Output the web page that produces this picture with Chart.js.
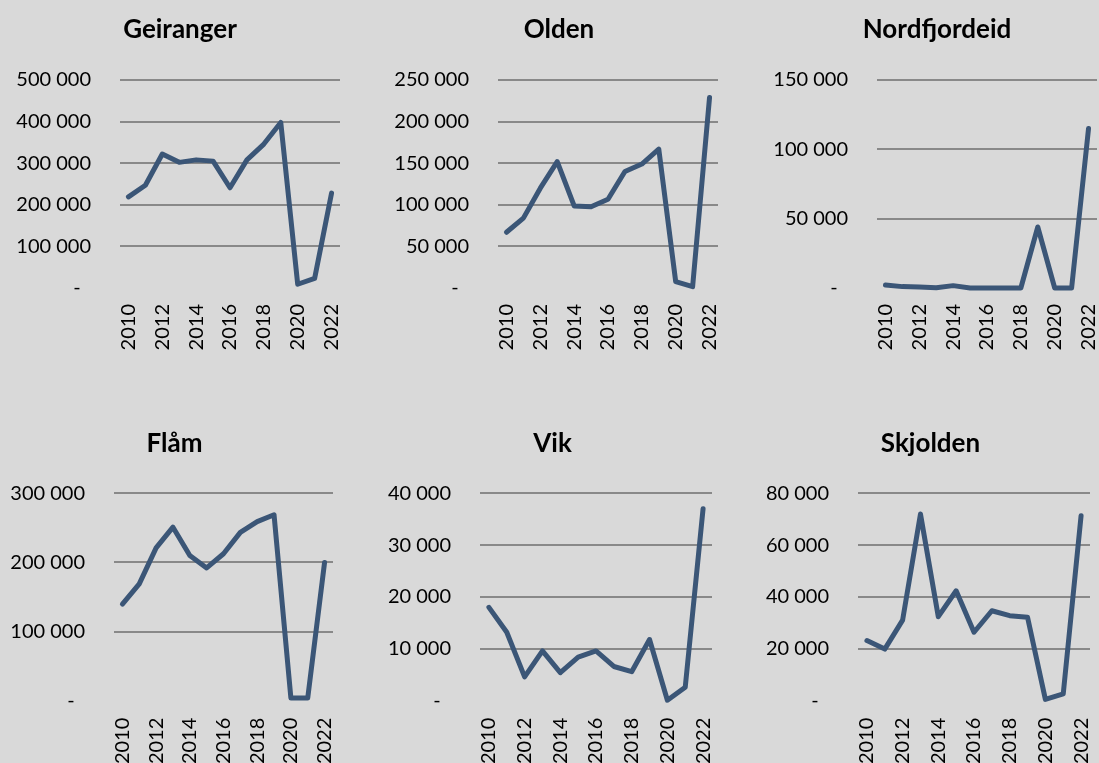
<!DOCTYPE html>
<html>
<head>
<meta charset="utf-8">
<script src="https://cdn.jsdelivr.net/npm/chart.js@4.4.1/dist/chart.umd.min.js"></script>
<style>
  html, body { margin: 0; padding: 0; background: #d9d9d9; }
  body { width: 1099px; height: 763px; position: relative; overflow: hidden; }
  .box { position: absolute; }
</style>
</head>
<body>
<div class="box" id="b0"><canvas id="c0"></canvas></div>
<div class="box" id="b1"><canvas id="c1"></canvas></div>
<div class="box" id="b2"><canvas id="c2"></canvas></div>
<div class="box" id="b3"><canvas id="c3"></canvas></div>
<div class="box" id="b4"><canvas id="c4"></canvas></div>
<div class="box" id="b5"><canvas id="c5"></canvas></div>
<script>
// ---- data ----
const years = ['2010','2011','2012','2013','2014','2015','2016','2017','2018','2019','2020','2021','2022'];
const titles = ['Geiranger', 'Olden', 'Nordfjordeid', 'Flåm', 'Vik', 'Skjolden'];
const geiranger    = [219000, 247000, 322000, 302000, 308000, 305000, 241000, 308000, 346000, 398000, 9000, 23000, 228000];
const olden        = [67000, 84000, 120000, 152000, 98600, 97700, 106600, 140000, 149000, 167000, 7600, 1600, 229000];
const nordfjordeid = [2200, 1000, 700, 200, 1700, 0, 0, 0, 0, 44000, 0, 0, 115000];
const flaam        = [139600, 169000, 221000, 251000, 210000, 192000, 212600, 243500, 259000, 269000, 4000, 4000, 200000];
const vik          = [18000, 13200, 4600, 9600, 5400, 8400, 9600, 6600, 5600, 11800, 100, 2600, 37000];
const skjolden     = [23200, 19900, 31100, 72000, 32400, 42400, 26400, 34700, 32800, 32200, 500, 2600, 71300];
const yMax  = [500000, 250000, 150000, 300000, 40000, 80000];
const yStep = [100000, 50000, 50000, 100000, 10000, 20000];

const seriesList = [geiranger, olden, nordfjordeid, flaam, vik, skjolden];

// ---- layout (positions only) ----
const layouts = [
  {L:0,   T:0,   W:360, H:390, aL:120, aR:340,  aT:80,    aB:288,   tY:38, xPad:16},
  {L:370, T:0,   W:378, H:390, aL:498, aR:718,  aT:80,    aB:288,   tY:38, xPad:16},
  {L:775, T:0,   W:324, H:390, aL:877, aR:1097, aT:80,    aB:288,   tY:38, xPad:16},
  {L:0,   T:400, W:349, H:363, aL:114, aR:333,  aT:493.3, aB:700.7, tY:52, xPad:17},
  {L:365, T:400, W:375, H:363, aL:480, aR:712,  aT:493.3, aB:700.7, tY:52, xPad:17},
  {L:762, T:400, W:337, H:363, aL:858, aR:1090, aT:493.3, aB:700.7, tY:52, xPad:17}
];

const FONT = 'Lato, Carlito, Calibri, "Open Sans", sans-serif';
const LINE_COLOR = '#3b5677';
const GRID_COLOR = '#898989';

function fmt(v) {
  if (v === 0) return '-  ';
  return String(v).replace(/\B(?=(\d{3})+(?!\d))/g, ' ');
}

const titlePlugin = {
  id: 'fixedTitle',
  afterDraw(chart, args, opts) {
    const ctx = chart.ctx;
    ctx.save();
    ctx.font = 'bold 26px ' + FONT;
    ctx.fillStyle = '#000';
    ctx.textAlign = 'center';
    ctx.textBaseline = 'alphabetic';
    ctx.fillText(opts.text, chart.width / 2, opts.y);
    ctx.restore();
  }
};

seriesList.forEach((data, i) => {
  const lo = layouts[i];
  const box = document.getElementById('b' + i);
  box.style.left = lo.L + 'px';
  box.style.top = lo.T + 'px';
  box.style.width = lo.W + 'px';
  box.style.height = lo.H + 'px';
  const yW = lo.aL - lo.L;
  const xH = lo.T + lo.H - lo.aB;
  new Chart(document.getElementById('c' + i), {
    type: 'line',
    data: {
      labels: years,
      datasets: [{
        data: data,
        borderColor: LINE_COLOR,
        borderWidth: 5,
        pointRadius: 0,
        pointHoverRadius: 0,
        tension: 0,
        fill: false,
        borderCapStyle: 'round',
        borderJoinStyle: 'round',
        clip: false
      }]
    },
    plugins: [titlePlugin],
    options: {
      responsive: true,
      maintainAspectRatio: false,
      animation: false,
      devicePixelRatio: 1,
      layout: {
        padding: { left: 0, top: lo.aT - lo.T, right: lo.L + lo.W - lo.aR, bottom: 0 }
      },
      plugins: {
        legend: { display: false },
        title: { display: false },
        tooltip: { enabled: false },
        fixedTitle: { text: titles[i], y: lo.tY }
      },
      scales: {
        x: {
          type: 'category',
          offset: true,
          grid: { display: false, drawTicks: false },
          border: { display: false },
          ticks: {
            autoSkip: false,
            minRotation: 90,
            maxRotation: 90,
            padding: lo.xPad,
            color: '#000',
            font: { family: FONT, size: 20 },
            callback: function(val, idx) { return idx % 2 === 0 ? years[idx] : ''; }
          },
          afterFit: function(scale) {
            scale.height = xH;
            scale.paddingLeft = 0;
            scale.paddingRight = 0;
          }
        },
        y: {
          min: 0,
          max: yMax[i],
          grid: {
            drawTicks: false,
            lineWidth: 2,
            color: function(c) { return c.tick && c.tick.value === 0 ? 'rgba(0,0,0,0)' : GRID_COLOR; }
          },
          border: { display: false },
          ticks: {
            stepSize: yStep[i],
            padding: 29,
            color: '#000',
            font: { family: FONT, size: 20 },
            callback: function(v) { return fmt(v); }
          },
          afterFit: function(scale) {
            scale.width = yW;
            scale.paddingTop = 0;
            scale.paddingBottom = 0;
          }
        }
      }
    }
  });
});
</script>
</body>
</html>
